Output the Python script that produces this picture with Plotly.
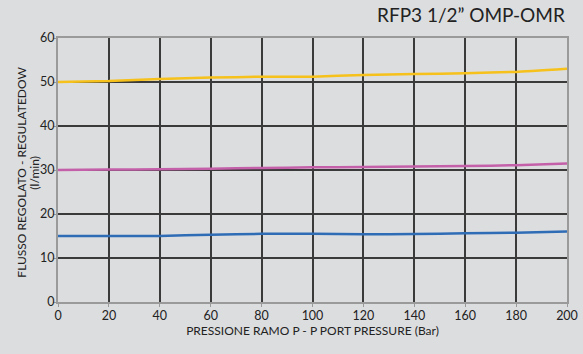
import plotly.graph_objects as go

pressure = [0, 20, 40, 60, 80, 100, 120, 140, 160, 180, 200]
flow_50 = [50.0, 50.2, 50.7, 51.0, 51.2, 51.2, 51.6, 51.8, 52.0, 52.3, 53.0]
flow_30 = [30.0, 30.1, 30.15, 30.3, 30.45, 30.6, 30.7, 30.8, 30.9, 31.1, 31.5]
flow_15 = [15.0, 15.0, 15.0, 15.3, 15.5, 15.5, 15.4, 15.45, 15.6, 15.75, 16.05]
x_ticks = [0, 20, 40, 60, 80, 100, 120, 140, 160, 180, 200]
y_ticks = [0, 10, 20, 30, 40, 50, 60]

FONT = "Lato, 'DejaVu Sans', sans-serif"
BG = "#dcdddf"

fig = go.Figure()
for ys, col in [(flow_50, "#f6c11a"), (flow_30, "#c460a9"), (flow_15, "#2f6cb6")]:
    fig.add_trace(go.Scatter(x=pressure, y=ys, mode="lines",
                             line=dict(color=col, width=2.5, shape="spline", smoothing=0.4),
                             showlegend=False, hoverinfo="skip"))

fig.update_layout(
    width=583, height=354,
    margin=dict(l=58, r=16, t=38, b=52, autoexpand=False),
    paper_bgcolor=BG, plot_bgcolor=BG,
    font=dict(family=FONT, size=12, color="#222"),
    showlegend=False,
)
fig.update_xaxes(range=[0, 200], tickvals=x_ticks, ticktext=[str(v) for v in x_ticks],
                 showgrid=True, gridcolor="#3a3a3a", gridwidth=1.5,
                 showline=True, linecolor="#9a9a9a", linewidth=2, mirror=True,
                 ticks="outside", ticklen=3, tickcolor="#9a9a9a", automargin=False,
                 ticklabelstandoff=-2,
                 tickfont=dict(size=12.5, color="#222"), zeroline=False,
                 title=dict(text="PRESSIONE RAMO P - P PORT PRESSURE (Bar)",
                            font=dict(size=12, color="#222"), standoff=0))
fig.update_yaxes(range=[0, 60], tickvals=y_ticks, ticktext=[str(v) for v in y_ticks],
                 showgrid=True, gridcolor="#3a3a3a", gridwidth=1.5,
                 showline=True, linecolor="#9a9a9a", linewidth=2, mirror=True,
                 ticks="outside", ticklen=3, tickcolor="#9a9a9a", automargin=False,
                 ticklabelstandoff=-4,
                 tickfont=dict(size=12.5, color="#222"), zeroline=False)

fig.add_annotation(text="RFP3 1/2\u201d OMP-OMR", xref="paper", yref="paper",
                   x=1.0, y=1.0, xanchor="right", yanchor="bottom", yshift=10,
                   showarrow=False, font=dict(size=19, color="#222", family=FONT))
fig.add_annotation(text="FLUSSO REGOLATO - REGULATEDOW",
                   xref="paper", yref="paper", x=0, y=0.49, xshift=-36,
                   xanchor="center", yanchor="middle", textangle=-90,
                   showarrow=False, font=dict(size=12, color="#222", family=FONT))
fig.add_annotation(text="(l/min)",
                   xref="paper", yref="paper", x=0, y=0.49, xshift=-23,
                   xanchor="center", yanchor="middle", textangle=-90,
                   showarrow=False, font=dict(size=12, color="#222", family=FONT))

fig.write_html("out.html")
